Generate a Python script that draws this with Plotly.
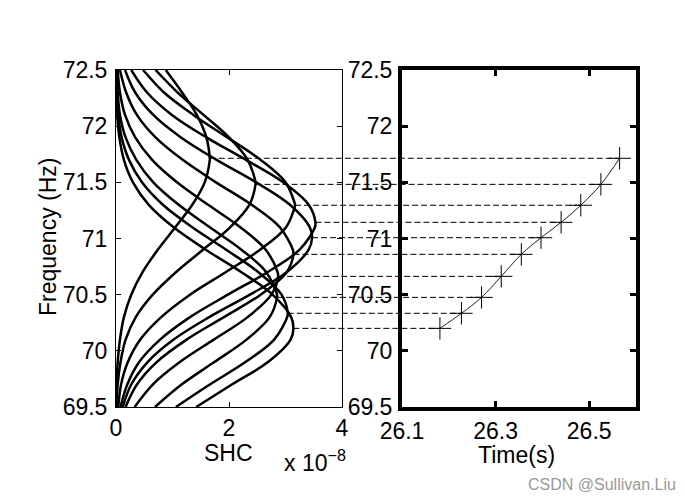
import plotly.graph_objects as go

# frequency samples (Hz) shared by all SHC curves
freq_grid = [69.5, 69.7, 69.9, 70.1, 70.3, 70.5, 70.7, 70.9, 71.1, 71.3, 71.5, 71.7, 71.9, 72.1, 72.3, 72.5]
# SHC (x 1e-8) of each curve at freq_grid
shc_c1 = [1.42, 2.05, 2.69, 3.09, 3.10, 2.77, 2.22, 1.59, 1.02, 0.58, 0.30, 0.14, 0.06, 0.02, 0.01, 0.00]
shc_c2 = [1.06, 1.66, 2.29, 2.80, 3.03, 2.93, 2.52, 1.95, 1.35, 0.83, 0.46, 0.23, 0.10, 0.04, 0.01, 0.00]
shc_c3 = [0.69, 1.16, 1.74, 2.31, 2.72, 2.85, 2.66, 2.22, 1.66, 1.11, 0.66, 0.36, 0.17, 0.07, 0.03, 0.01]
shc_c4 = [0.33, 0.65, 1.13, 1.73, 2.33, 2.75, 2.86, 2.65, 2.20, 1.63, 1.08, 0.64, 0.34, 0.16, 0.07, 0.03]
shc_c5 = [0.17, 0.37, 0.72, 1.25, 1.91, 2.56, 3.02, 3.13, 2.90, 2.40, 1.77, 1.18, 0.70, 0.37, 0.18, 0.07]
shc_c6 = [0.12, 0.27, 0.56, 1.02, 1.65, 2.37, 3.02, 3.41, 3.43, 3.08, 2.48, 1.78, 1.15, 0.66, 0.34, 0.16]
shc_c7 = [0.08, 0.20, 0.41, 0.78, 1.31, 1.98, 2.68, 3.25, 3.52, 3.41, 2.96, 2.30, 1.60, 0.99, 0.55, 0.27]
shc_c8 = [0.04, 0.09, 0.21, 0.43, 0.80, 1.31, 1.94, 2.55, 3.01, 3.17, 3.00, 2.56, 1.97, 1.37, 0.85, 0.48]
shc_c9 = [0.01, 0.03, 0.08, 0.17, 0.35, 0.65, 1.06, 1.54, 2.02, 2.36, 2.47, 2.33, 2.00, 1.55, 1.09, 0.70]
shc_c10 = [0.00, 0.01, 0.03, 0.07, 0.14, 0.27, 0.47, 0.74, 1.05, 1.35, 1.57, 1.66, 1.60, 1.43, 1.17, 0.88]
curves = [shc_c1, shc_c2, shc_c3, shc_c4, shc_c5, shc_c6, shc_c7, shc_c8, shc_c9, shc_c10]

# peak of each curve (frequency, SHC) and its time
peak_freq = [70.200, 70.334, 70.476, 70.663, 70.859, 71.007, 71.144, 71.296, 71.482, 71.714]
peak_shc = [3.14, 3.04, 2.85, 2.87, 3.14, 3.47, 3.53, 3.17, 2.47, 1.66]
time_s = [26.181, 26.227, 26.270, 26.312, 26.355, 26.397, 26.440, 26.482, 26.525, 26.565]

shc_range = [0, 4]
time_range = [26.1, 26.6]
freq_range = [69.5, 72.5]
dom_l = [0, 0.4346]
dom_r = [0.55, 1.0]

fig = go.Figure()
for fc, A, vals in zip(peak_freq, peak_shc, curves):
    pts = sorted(list(zip(freq_grid, vals)) + [(fc, A)])
    fig.add_trace(go.Scatter(x=[p[1] for p in pts], y=[p[0] for p in pts], mode="lines",
                             line=dict(color="black", width=2.5, shape="spline"),
                             xaxis="x", yaxis="y", showlegend=False, hoverinfo="skip"))
fig.add_trace(go.Scatter(x=time_s, y=peak_freq, mode="lines+markers",
                         line=dict(color="#222", width=1, shape="spline"),
                         marker=dict(symbol="cross-thin", size=16, line=dict(color="black", width=1)),
                         xaxis="x2", yaxis="y2", showlegend=False))


def px_l(v):
    return dom_l[0] + (v - shc_range[0]) / (shc_range[1] - shc_range[0]) * (dom_l[1] - dom_l[0])


def px_r(v):
    return dom_r[0] + (v - time_range[0]) / (time_range[1] - time_range[0]) * (dom_r[1] - dom_r[0])


for fc, A, t in zip(peak_freq, peak_shc, time_s):
    fig.add_shape(type="line", xref="paper", yref="y", x0=px_l(A), x1=px_r(t), y0=fc, y1=fc,
                  line=dict(color="black", width=1, dash="6px,3px"))

FAM = "Arial, Liberation Sans, sans-serif"
font = dict(family=FAM, size=23, color="black")
ax_common = dict(showline=True, linecolor="black", ticks="inside", tickcolor="black",
                 showgrid=False, zeroline=False, mirror="ticks", tickfont=font)
fig.update_layout(
    width=685, height=500, margin=dict(l=116, r=49, t=70, b=93),
    paper_bgcolor="white", plot_bgcolor="white", font=font,
    xaxis=dict(domain=dom_l, range=shc_range, dtick=2, tick0=0, linewidth=1, ticklen=5,
               anchor="y", **ax_common),
    yaxis=dict(domain=[0, 1], range=freq_range, dtick=0.5, linewidth=1, ticklen=5,
               anchor="x", ticklabelstandoff=3, **ax_common),
    xaxis2=dict(domain=dom_r, range=time_range, dtick=0.2, tick0=26.1, linewidth=4, ticklen=6,
                tickwidth=3, anchor="y2", **ax_common),
    yaxis2=dict(domain=[0, 1], range=freq_range, dtick=0.5, linewidth=4, ticklen=6, tickwidth=3,
                anchor="x2", ticklabelstandoff=1, **ax_common),
    annotations=[
        dict(text="SHC", x=0.217, y=-0.137, xref="paper", yref="paper", xanchor="center",
             yanchor="middle", showarrow=False, font=font),
        dict(text="x 10<sup>\u22128</sup>", x=0.319, y=-0.16, xref="paper", yref="paper",
             xanchor="left", yanchor="middle", showarrow=False, font=font),
        dict(text="Time(s)", x=0.771, y=-0.143, xref="paper", yref="paper", xanchor="center",
             yanchor="middle", showarrow=False, font=font),
        dict(text="Frequency (Hz)", x=-0.131, y=0.504, xref="paper", yref="paper", textangle=-90,
             xanchor="center", yanchor="middle", showarrow=False, font=font),
        dict(text="CSDN @Sullivan.Liu", x=1.081, y=-0.2285, xref="paper", yref="paper",
             xanchor="right", yanchor="middle", showarrow=False,
             font=dict(family=FAM, size=16, color="#999")),
    ],
)
fig.write_html("out.html")
